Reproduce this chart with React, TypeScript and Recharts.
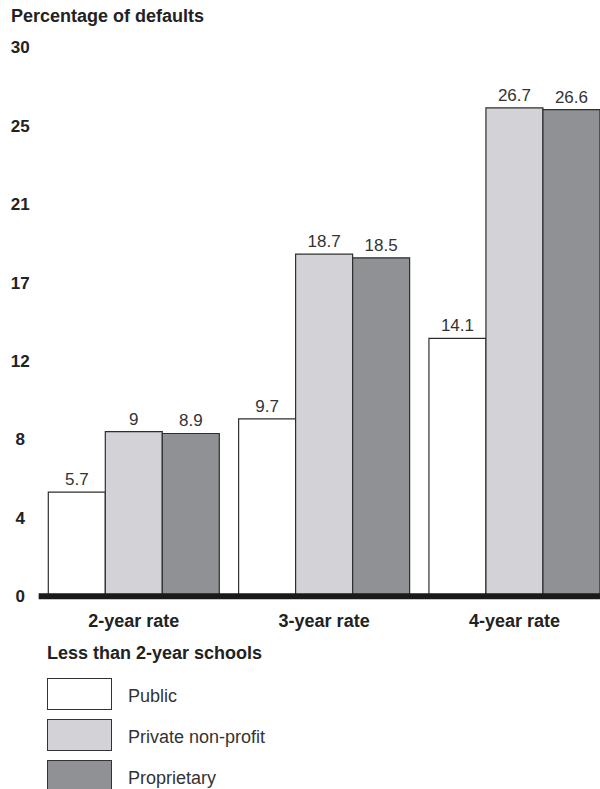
import React from 'react';
import { BarChart, Bar, XAxis, YAxis, LabelList, Legend, ReferenceLine } from 'recharts';

// Cohort default rates, less than 2-year schools
const categories = ['2-year rate', '3-year rate', '4-year rate'];
const publicRates = [5.7, 9.7, 14.1];
const privateRates = [9, 18.7, 26.7];
const proprietaryRates = [8.9, 18.5, 26.6];

const seriesNames = ['Public', 'Private non-profit', 'Proprietary'];
const seriesColors = ['#ffffff', '#d3d3d7', '#8f9194'];

// the axis is cut in seven equal steps, labels are rounded down
const yTicks = [0, 4.29, 8.57, 12.86, 17.14, 21.43, 25.71, 30];
const yTickLabels = ['0', '4', '8', '12', '17', '21', '25', '30'];

const FONT = '"Liberation Sans", Arial, Helvetica, sans-serif';

const data = categories.map((c, i) => ({
  category: c,
  public: publicRates[i],
  private: privateRates[i],
  proprietary: proprietaryRates[i],
}));

const YTick = ({ x, y, payload }: any) => {
  const idx = yTicks.indexOf(payload.value);
  return (
    <text x={x - 18.5} y={y} dy="0.35em" textAnchor="middle" fontFamily={FONT} fontSize={17} fontWeight="bold" fill="#222">
      {yTickLabels[idx]}
    </text>
  );
};

const LegendBox = ({ payload }: any) => {
  const items = [...(payload || [])].sort(
    (a: any, b: any) => seriesNames.indexOf(a.value) - seriesNames.indexOf(b.value)
  );
  return (
    <div style={{ fontFamily: FONT }}>
      <div style={{ fontWeight: 'bold', fontSize: 18, lineHeight: '20px', color: '#222', marginBottom: 15 }}>
        Less than 2-year schools
      </div>
      {items.map((item: any) => (
        <div key={item.value} style={{ display: 'flex', alignItems: 'center', height: 41 }}>
          <div
            style={{
              width: 65,
              height: 32,
              boxSizing: 'border-box',
              border: '1.5px solid #333',
              background: item.color,
              alignSelf: 'flex-start',
            }}
          />
          <span style={{ marginLeft: 16, fontSize: 18, color: '#333', marginTop: -4 }}>{item.value}</span>
        </div>
      ))}
    </div>
  );
};

export default function App() {
  return (
    <div style={{ position: 'fixed', top: 0, left: 0, width: 600, height: 789, overflow: 'hidden', background: '#fff', fontFamily: FONT }}>
      <div style={{ position: 'absolute', left: 11, top: 5, fontSize: 18, fontWeight: 'bold', color: '#222', lineHeight: '22px', zIndex: 2 }}>
        Percentage of defaults
      </div>
      <BarChart
        width={611}
        height={789}
        data={data}
        margin={{ top: 47.5, right: 1.4, left: 0, bottom: 162.7 }}
        barCategoryGap={9.65}
        barGap={0}
        style={{ fontFamily: FONT }}
      >
        <XAxis
          dataKey="category"
          axisLine={false}
          tickLine={false}
          tickSize={0}
          tickMargin={17.5}
          height={30}
          tick={{ fontSize: 18, fontWeight: 'bold', fill: '#222', fontFamily: FONT }}
        />
        <YAxis
          domain={[0, 30]}
          ticks={yTicks}
          width={38.65}
          axisLine={false}
          tickLine={false}
          tickSize={0}
          tickMargin={0}
          tick={<YTick />}
          interval={0}
        />
        <Legend
          verticalAlign="middle"
          align="center"
          layout="horizontal"
          wrapperStyle={{ position: 'absolute', top: 643, left: 47, width: 400 }}
          content={<LegendBox />}
        />
        <Bar dataKey="public" name={seriesNames[0]} fill={seriesColors[0]} stroke="#2e2e2e" strokeWidth={1.2} isAnimationActive={false}>
          <LabelList dataKey="public" position="top" offset={7} fill="#333" fontSize={17} fontFamily={FONT} />
        </Bar>
        <Bar dataKey="private" name={seriesNames[1]} fill={seriesColors[1]} stroke="#2e2e2e" strokeWidth={1.2} isAnimationActive={false}>
          <LabelList dataKey="private" position="top" offset={7} fill="#333" fontSize={17} fontFamily={FONT} />
        </Bar>
        <Bar dataKey="proprietary" name={seriesNames[2]} fill={seriesColors[2]} stroke="#2e2e2e" strokeWidth={1.2} isAnimationActive={false}>
          <LabelList dataKey="proprietary" position="top" offset={7} fill="#333" fontSize={17} fontFamily={FONT} />
        </Bar>
        <ReferenceLine y={0} stroke="#1a1a1a" strokeWidth={6} />
      </BarChart>
    </div>
  );
}
